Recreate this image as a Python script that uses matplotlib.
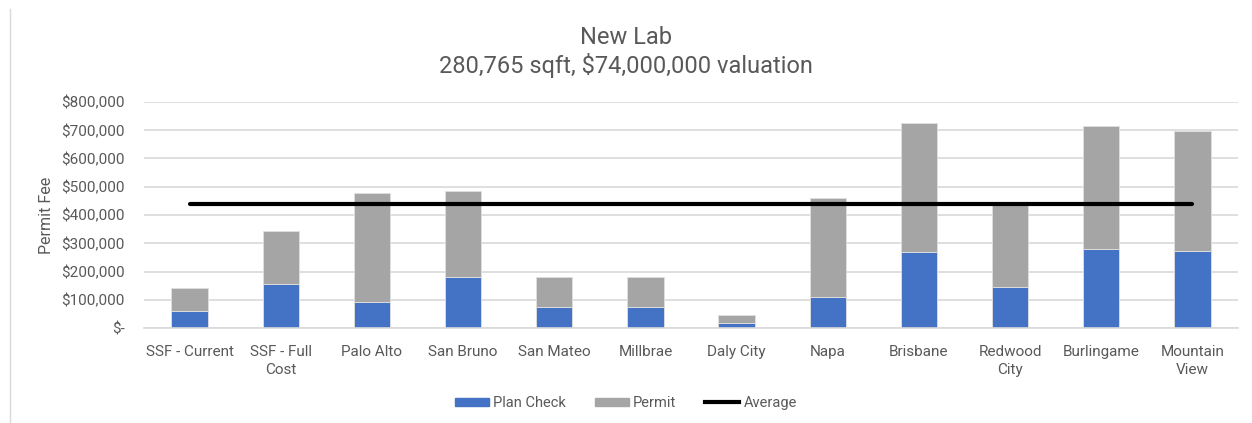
import matplotlib
matplotlib.use("Agg")
import matplotlib.pyplot as plt
from matplotlib.lines import Line2D
from matplotlib.patches import Patch
from matplotlib.ticker import FuncFormatter, MultipleLocator
import numpy as np

plt.rcParams['font.family'] = ['Roboto', 'DejaVu Sans']

categories = ["SSF - Current", "SSF - Full\nCost", "Palo Alto", "San Bruno", "San Mateo",
              "Millbrae", "Daly City", "Napa", "Brisbane", "Redwood\nCity",
              "Burlingame", "Mountain\nView"]
plan_check = [61000, 156000, 92000, 180000, 75000, 73000, 19000, 109000, 268000, 146000, 278000, 272000]
permit = [79000, 189000, 387000, 305000, 107000, 106000, 27000, 351000, 458000, 289000, 436000, 424000]
average = [440000] * 12

title_line1 = "New Lab"
title_line2 = "280,765 sqft, $74,000,000 valuation"
ylabel_text = "Permit Fee"

BLUE = "#4472C4"
GRAY = "#A5A5A5"
TEXT = "#595959"

fig = plt.figure(figsize=(12.52, 4.23), dpi=100)
ax = fig.add_axes([144/1252, 1 - 328/423, (1238-144)/1252, (328-102)/423])

x = np.arange(len(categories))
ax.bar(x, plan_check, width=0.4, color=BLUE, edgecolor="#E0E0E0", linewidth=0.6, zorder=2)
ax.bar(x, permit, width=0.4, bottom=plan_check, color=GRAY, edgecolor="#E0E0E0", linewidth=0.6, zorder=2)
ax.plot(x, average, color="black", linewidth=3, solid_capstyle="round", zorder=3)

ax.set_xlim(-0.5, len(categories) - 0.5)
ax.set_ylim(0, 800000)
ax.yaxis.set_major_locator(MultipleLocator(100000))
ax.yaxis.set_major_formatter(FuncFormatter(lambda v, p: "$-" if v == 0 else f"${v:,.0f}"))
ax.grid(axis="y", color="#D9D9D9", linewidth=1.2, zorder=0)
ax.set_axisbelow(True)
for s in ["top", "right", "left"]:
    ax.spines[s].set_visible(False)
ax.spines["bottom"].set_color("#D9D9D9")
ax.spines["bottom"].set_linewidth(1.2)
ax.tick_params(axis="both", length=0, labelsize=11, labelcolor=TEXT)
ax.tick_params(axis="y", pad=14)
ax.tick_params(axis="x", pad=12)
ax.set_xticks(x)
ax.set_xticklabels(categories, linespacing=1.35)
ax.set_ylabel(ylabel_text, fontsize=11.5, color=TEXT, labelpad=5)

fig.text(0.5, 1 - 37/423, title_line1, ha="center", va="center", fontsize=17, color=TEXT)
fig.text(0.5, 1 - 66/423, title_line2, ha="center", va="center", fontsize=17, color=TEXT)

handles = [Patch(color=BLUE, label="Plan Check"),
           Patch(color=GRAY, label="Permit"),
           Line2D([0], [0], color="black", linewidth=3, label="Average")]
fig.legend(handles=handles, loc="center", bbox_to_anchor=(0.5, 1 - 403/423), ncol=3,
           frameon=False, fontsize=10.5, labelcolor=TEXT, handlelength=2.3, handleheight=0.5,
           columnspacing=2.0, handletextpad=0.3)

fig.add_artist(Line2D([9.5/1252, 9.5/1252], [0, 1 - 9/423], color="#D9D9D9", linewidth=1,
                      transform=fig.transFigure))

fig.savefig("out.png", dpi=100, facecolor="white")
